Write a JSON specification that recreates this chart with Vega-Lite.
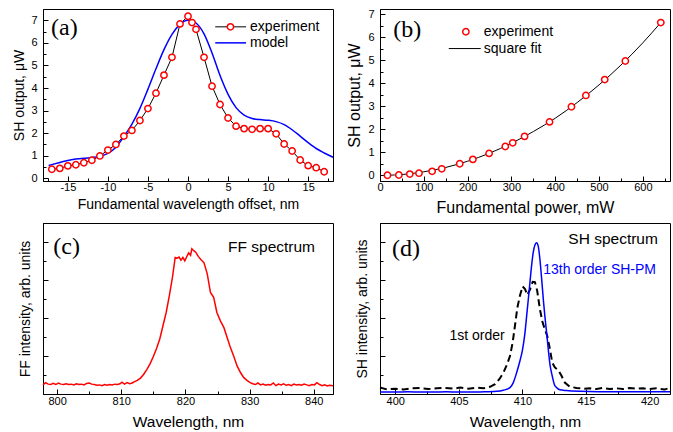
{
  "$schema": "https://vega.github.io/schema/vega-lite/v6.json",
  "padding": {"left": 12, "top": 7, "right": 4, "bottom": 4},
  "columns": 2,
  "spacing": {"row": 6, "column": 9},
  "datasets": {
    "a_exp": [{"x":-17,"y":0.40},{"x":-16,"y":0.44},{"x":-15,"y":0.55},{"x":-14,"y":0.60},{"x":-13,"y":0.69},{"x":-12,"y":0.80},{"x":-11,"y":0.99},{"x":-10,"y":1.25},{"x":-9,"y":1.50},{"x":-8,"y":1.87},{"x":-7,"y":2.12},{"x":-6,"y":2.56},{"x":-5,"y":3.09},{"x":-4,"y":3.77},{"x":-3,"y":4.57},{"x":-2,"y":5.36},{"x":-1,"y":6.84},{"x":0,"y":7.18},{"x":0.5,"y":6.9},{"x":1,"y":6.6},{"x":2,"y":5.36},{"x":3,"y":4.08},{"x":4,"y":3.27},{"x":5,"y":2.67},{"x":6,"y":2.31},{"x":7,"y":2.20},{"x":8,"y":2.17},{"x":9,"y":2.20},{"x":10,"y":2.20},{"x":11,"y":1.97},{"x":12,"y":1.52},{"x":13,"y":1.21},{"x":14,"y":0.81},{"x":15,"y":0.56},{"x":16,"y":0.47},{"x":17,"y":0.29}],
    "a_model": [{"x":-17.4,"y":0.57},{"x":-16,"y":0.70},{"x":-15,"y":0.79},{"x":-14,"y":0.85},{"x":-13,"y":0.89},{"x":-12,"y":0.92},{"x":-11,"y":0.97},{"x":-10,"y":1.10},{"x":-9,"y":1.38},{"x":-8,"y":1.85},{"x":-7,"y":2.40},{"x":-6,"y":3.10},{"x":-5,"y":3.95},{"x":-4,"y":4.85},{"x":-3,"y":5.70},{"x":-2,"y":6.38},{"x":-1,"y":6.82},{"x":-0.5,"y":6.95},{"x":0,"y":7.0},{"x":0.5,"y":6.98},{"x":1,"y":6.88},{"x":2,"y":6.40},{"x":3,"y":5.55},{"x":4,"y":4.55},{"x":5,"y":3.72},{"x":6,"y":3.13},{"x":7,"y":2.80},{"x":8,"y":2.65},{"x":9,"y":2.60},{"x":10,"y":2.57},{"x":11,"y":2.51},{"x":12,"y":2.38},{"x":13,"y":2.15},{"x":14,"y":1.87},{"x":15,"y":1.58},{"x":16,"y":1.32},{"x":17,"y":1.12},{"x":18.1,"y":0.93}],
    "b_exp": [{"x":17,"y":0.0},{"x":43,"y":0.01},{"x":68,"y":0.05},{"x":89,"y":0.09},{"x":119,"y":0.17},{"x":141,"y":0.28},{"x":182,"y":0.50},{"x":212,"y":0.69},{"x":249,"y":0.95},{"x":286,"y":1.25},{"x":303,"y":1.41},{"x":330,"y":1.69},{"x":387,"y":2.32},{"x":437,"y":2.98},{"x":470,"y":3.47},{"x":513,"y":4.16},{"x":560,"y":4.97},{"x":641,"y":6.64}],
    "b_fit": [{"x":16,"y":0.0},{"x":50,"y":0.03},{"x":100,"y":0.15},{"x":150,"y":0.34},{"x":200,"y":0.61},{"x":250,"y":0.96},{"x":300,"y":1.39},{"x":350,"y":1.90},{"x":400,"y":2.48},{"x":450,"y":3.16},{"x":500,"y":3.93},{"x":550,"y":4.79},{"x":600,"y":5.76},{"x":641,"y":6.64}],
    "c_ff": [{"x":797.8,"y":0.24},{"x":798.2,"y":0.30},{"x":798.6,"y":0.26},{"x":799.0,"y":0.25},{"x":799.4,"y":0.28},{"x":799.8,"y":0.25},{"x":800.2,"y":0.29},{"x":800.6,"y":0.26},{"x":801.0,"y":0.25},{"x":801.4,"y":0.27},{"x":801.8,"y":0.25},{"x":802.2,"y":0.26},{"x":802.6,"y":0.24},{"x":803.0,"y":0.27},{"x":803.4,"y":0.25},{"x":803.8,"y":0.26},{"x":804.2,"y":0.24},{"x":804.6,"y":0.28},{"x":805.0,"y":0.29},{"x":805.4,"y":0.26},{"x":805.8,"y":0.25},{"x":806.2,"y":0.23},{"x":806.6,"y":0.24},{"x":807.0,"y":0.22},{"x":807.4,"y":0.25},{"x":807.8,"y":0.23},{"x":808.2,"y":0.25},{"x":808.6,"y":0.24},{"x":809.0,"y":0.26},{"x":809.4,"y":0.25},{"x":809.8,"y":0.27},{"x":810.1,"y":0.31},{"x":810.5,"y":0.26},{"x":810.9,"y":0.30},{"x":811.3,"y":0.27},{"x":811.7,"y":0.29},{"x":812.0,"y":0.32},{"x":812.5,"y":0.36},{"x":813.0,"y":0.42},{"x":813.5,"y":0.52},{"x":814.0,"y":0.65},{"x":814.5,"y":0.80},{"x":815.0,"y":0.99},{"x":815.5,"y":1.20},{"x":816.0,"y":1.45},{"x":816.5,"y":1.80},{"x":817.0,"y":2.15},{"x":817.5,"y":2.60},{"x":818.0,"y":3.10},{"x":818.4,"y":3.60},{"x":818.7,"y":3.58},{"x":819.0,"y":3.61},{"x":819.3,"y":3.53},{"x":819.6,"y":3.60},{"x":819.9,"y":3.51},{"x":820.2,"y":3.62},{"x":820.5,"y":3.72},{"x":820.8,"y":3.66},{"x":821.0,"y":3.83},{"x":821.3,"y":3.78},{"x":821.6,"y":3.74},{"x":822.0,"y":3.63},{"x":822.4,"y":3.55},{"x":822.9,"y":3.46},{"x":823.4,"y":3.17},{"x":823.9,"y":2.68},{"x":824.4,"y":2.55},{"x":824.9,"y":2.15},{"x":825.45,"y":1.93},{"x":826.0,"y":1.75},{"x":826.5,"y":1.49},{"x":827.0,"y":1.23},{"x":827.5,"y":1.01},{"x":828.05,"y":0.74},{"x":828.6,"y":0.56},{"x":829.1,"y":0.43},{"x":829.6,"y":0.36},{"x":830.1,"y":0.30},{"x":830.5,"y":0.27},{"x":830.9,"y":0.25},{"x":831.3,"y":0.29},{"x":831.7,"y":0.24},{"x":832.1,"y":0.26},{"x":832.5,"y":0.23},{"x":832.9,"y":0.25},{"x":833.3,"y":0.24},{"x":833.7,"y":0.29},{"x":834.1,"y":0.22},{"x":834.5,"y":0.26},{"x":834.9,"y":0.24},{"x":835.3,"y":0.27},{"x":835.7,"y":0.23},{"x":836.1,"y":0.25},{"x":836.5,"y":0.22},{"x":836.9,"y":0.26},{"x":837.3,"y":0.24},{"x":837.7,"y":0.25},{"x":838.1,"y":0.23},{"x":838.5,"y":0.26},{"x":838.9,"y":0.24},{"x":839.3,"y":0.22},{"x":839.7,"y":0.25},{"x":840.1,"y":0.24},{"x":840.5,"y":0.30},{"x":840.9,"y":0.25},{"x":841.3,"y":0.22},{"x":841.7,"y":0.24},{"x":842.1,"y":0.21},{"x":842.5,"y":0.23},{"x":843.0,"y":0.22}],
    "d_blue": [{"x":398.8,"y":0.05},{"x":400,"y":0.05},{"x":401,"y":0.06},{"x":402,"y":0.05},{"x":403,"y":0.05},{"x":404,"y":0.06},{"x":405,"y":0.05},{"x":406,"y":0.05},{"x":407,"y":0.06},{"x":408,"y":0.07},{"x":408.5,"y":0.10},{"x":409.02,"y":0.17},{"x":409.28,"y":0.30},{"x":409.54,"y":0.56},{"x":409.80,"y":0.87},{"x":410.01,"y":1.18},{"x":410.2,"y":1.62},{"x":410.33,"y":2.06},{"x":410.46,"y":2.50},{"x":410.59,"y":2.95},{"x":410.72,"y":3.39},{"x":410.85,"y":3.74},{"x":410.98,"y":3.93},{"x":411.11,"y":3.99},{"x":411.24,"y":3.90},{"x":411.37,"y":3.56},{"x":411.53,"y":2.95},{"x":411.66,"y":2.42},{"x":411.76,"y":2.06},{"x":411.9,"y":1.62},{"x":412.03,"y":1.18},{"x":412.18,"y":0.74},{"x":412.34,"y":0.48},{"x":412.5,"y":0.26},{"x":412.68,"y":0.17},{"x":412.94,"y":0.11},{"x":413.46,"y":0.09},{"x":414.5,"y":0.07},{"x":416,"y":0.06},{"x":418,"y":0.06},{"x":420,"y":0.06},{"x":421.6,"y":0.06}],
    "d_black": [{"x":398.8,"y":0.17},{"x":399.35,"y":0.12},{"x":400,"y":0.14},{"x":400.65,"y":0.12},{"x":401.3,"y":0.15},{"x":401.96,"y":0.16},{"x":402.6,"y":0.13},{"x":403.27,"y":0.15},{"x":403.9,"y":0.16},{"x":404.58,"y":0.14},{"x":405.1,"y":0.17},{"x":405.75,"y":0.14},{"x":406.4,"y":0.17},{"x":406.93,"y":0.15},{"x":407.45,"y":0.19},{"x":407.84,"y":0.26},{"x":408.18,"y":0.39},{"x":408.5,"y":0.56},{"x":408.76,"y":0.76},{"x":409.02,"y":1.0},{"x":409.23,"y":1.36},{"x":409.41,"y":1.80},{"x":409.6,"y":2.28},{"x":409.8,"y":2.59},{"x":410.01,"y":2.84},{"x":410.2,"y":2.77},{"x":410.38,"y":2.61},{"x":410.59,"y":2.75},{"x":410.8,"y":2.96},{"x":410.98,"y":2.95},{"x":411.16,"y":2.72},{"x":411.37,"y":2.24},{"x":411.58,"y":1.89},{"x":411.76,"y":1.71},{"x":411.95,"y":1.53},{"x":412.16,"y":1.18},{"x":412.34,"y":0.83},{"x":412.55,"y":0.70},{"x":412.81,"y":0.63},{"x":413.07,"y":0.48},{"x":413.33,"y":0.30},{"x":413.73,"y":0.19},{"x":414.25,"y":0.16},{"x":414.77,"y":0.14},{"x":415.3,"y":0.15},{"x":415.82,"y":0.13},{"x":416.34,"y":0.16},{"x":416.86,"y":0.13},{"x":417.39,"y":0.15},{"x":417.9,"y":0.13},{"x":418.43,"y":0.16},{"x":418.95,"y":0.14},{"x":419.48,"y":0.15},{"x":420,"y":0.13},{"x":420.52,"y":0.15},{"x":421.18,"y":0.12},{"x":421.57,"y":0.16}]
  },
  "concat": [
    {
      "width": 290, "height": 172,
      "layer": [
        {"data": {"name": "a_exp"}, "mark": {"type": "line", "color": "black", "strokeWidth": 1},
         "encoding": {
           "x": {"field": "x", "type": "quantitative", "scale": {"domain": [-18.1, 18.1], "nice": false, "zero": false},
                 "axis": {"title": "Fundamental wavelength offset, nm", "titleFontSize": 14, "titlePadding": 3, "labelOverlap": false, "tickCount": 100,
                          "values": [-17.5,-15,-12.5,-10,-7.5,-5,-2.5,0,2.5,5,7.5,10,12.5,15,17.5],
                          "tickSize": {"condition": {"test": "datum.value % 5 === 0", "value": -5}, "value": -3},
                          "labelExpr": "datum.value % 5 === 0 ? toString(datum.value) : ''", "labelPadding": 5}},
           "y": {"field": "y", "type": "quantitative", "scale": {"domain": [-0.12, 7.5], "nice": false, "zero": false},
                 "axis": {"title": "SH output, μW", "titleFontSize": 14, "titlePadding": 4, "labelOverlap": false, "tickCount": 100,
                          "values": [0,0.5,1,1.5,2,2.5,3,3.5,4,4.5,5,5.5,6,6.5,7],
                          "tickSize": {"condition": {"test": "datum.value % 1 === 0", "value": -5}, "value": -3},
                          "labelExpr": "datum.value % 1 === 0 ? toString(datum.value) : ''", "labelPadding": 11}}
         }},
        {"data": {"name": "a_model"}, "mark": {"type": "line", "color": "#0000ff", "strokeWidth": 1.5, "interpolate": "monotone"},
         "encoding": {"x": {"field": "x", "type": "quantitative"}, "y": {"field": "y", "type": "quantitative"}}},
        {"data": {"name": "a_exp"}, "mark": {"type": "point", "shape": "circle", "size": 40, "fill": "white", "stroke": "#ff0000", "strokeWidth": 1.5, "opacity": 1},
         "encoding": {"x": {"field": "x", "type": "quantitative"}, "y": {"field": "y", "type": "quantitative"}}},
        {"data": {"values": [{"x": 3.4, "x2": 7.25, "y": 6.71}]}, "mark": {"type": "rule", "color": "black", "strokeWidth": 1},
         "encoding": {"x": {"field": "x", "type": "quantitative"}, "x2": {"field": "x2"}, "y": {"field": "y", "type": "quantitative"}}},
        {"data": {"values": [{"x": 3.4, "x2": 7.25, "y": 6.0}]}, "mark": {"type": "rule", "color": "#0000ff", "strokeWidth": 1.5},
         "encoding": {"x": {"field": "x", "type": "quantitative"}, "x2": {"field": "x2"}, "y": {"field": "y", "type": "quantitative"}}},
        {"data": {"values": [{"x": 5.3, "y": 6.71}]}, "mark": {"type": "point", "shape": "circle", "size": 40, "fill": "white", "stroke": "#ff0000", "strokeWidth": 1.5, "opacity": 1},
         "encoding": {"x": {"field": "x", "type": "quantitative"}, "y": {"field": "y", "type": "quantitative"}}},
        {"data": {"values": [{"x": 7.75, "y": 6.71, "t": "experiment"}, {"x": 7.75, "y": 6.0, "t": "model"}]},
         "mark": {"type": "text", "align": "left", "baseline": "middle", "font": "Liberation Sans", "fontSize": 14, "color": "black"},
         "encoding": {"x": {"field": "x", "type": "quantitative"}, "y": {"field": "y", "type": "quantitative"}, "text": {"field": "t"}}},
        {"data": {"values": [{"x": -17.1, "y": 6.64, "t": "(a)"}]},
         "mark": {"type": "text", "align": "left", "baseline": "middle", "font": "Liberation Serif", "fontSize": 24, "color": "black"},
         "encoding": {"x": {"field": "x", "type": "quantitative"}, "y": {"field": "y", "type": "quantitative"}, "text": {"field": "t"}}}
      ]
    },
    {
      "width": 290, "height": 172,
      "layer": [
        {"data": {"name": "b_fit"}, "mark": {"type": "line", "color": "black", "strokeWidth": 1, "interpolate": "monotone"},
         "encoding": {
           "x": {"field": "x", "type": "quantitative", "scale": {"domain": [0, 662], "nice": false, "zero": false},
                 "axis": {"title": "Fundamental power, mW", "titleFontSize": 16, "titlePadding": 5, "labelOverlap": false, "tickCount": 100,
                          "values": [0,50,100,150,200,250,300,350,400,450,500,550,600,650],
                          "tickSize": {"condition": {"test": "datum.value % 100 === 0", "value": -5}, "value": -3},
                          "labelExpr": "datum.value % 100 === 0 ? toString(datum.value) : ''", "labelPadding": 5}},
           "y": {"field": "y", "type": "quantitative", "scale": {"domain": [-0.25, 7.23], "nice": false, "zero": false},
                 "axis": {"title": "SH output, μW", "titleFontSize": 16, "titlePadding": 5, "labelOverlap": false, "tickCount": 100,
                          "values": [0,0.5,1,1.5,2,2.5,3,3.5,4,4.5,5,5.5,6,6.5,7],
                          "tickSize": {"condition": {"test": "datum.value % 1 === 0", "value": -5}, "value": -3},
                          "labelExpr": "datum.value % 1 === 0 ? toString(datum.value) : ''", "labelPadding": 11}}
         }},
        {"data": {"name": "b_exp"}, "mark": {"type": "point", "shape": "circle", "size": 40, "fill": "white", "stroke": "#ff0000", "strokeWidth": 1.5, "opacity": 1},
         "encoding": {"x": {"field": "x", "type": "quantitative"}, "y": {"field": "y", "type": "quantitative"}}},
        {"data": {"values": [{"x": 157, "x2": 230, "y": 5.51}]}, "mark": {"type": "rule", "color": "black", "strokeWidth": 1},
         "encoding": {"x": {"field": "x", "type": "quantitative"}, "x2": {"field": "x2"}, "y": {"field": "y", "type": "quantitative"}}},
        {"data": {"values": [{"x": 196, "y": 6.24}]}, "mark": {"type": "point", "shape": "circle", "size": 40, "fill": "white", "stroke": "#ff0000", "strokeWidth": 1.5, "opacity": 1},
         "encoding": {"x": {"field": "x", "type": "quantitative"}, "y": {"field": "y", "type": "quantitative"}}},
        {"data": {"values": [{"x": 237, "y": 6.24, "t": "experiment"}, {"x": 237, "y": 5.51, "t": "square fit"}]},
         "mark": {"type": "text", "align": "left", "baseline": "middle", "font": "Liberation Sans", "fontSize": 14, "color": "black"},
         "encoding": {"x": {"field": "x", "type": "quantitative"}, "y": {"field": "y", "type": "quantitative"}, "text": {"field": "t"}}},
        {"data": {"values": [{"x": 30.5, "y": 6.33, "t": "(b)"}]},
         "mark": {"type": "text", "align": "left", "baseline": "middle", "font": "Liberation Serif", "fontSize": 24, "color": "black"},
         "encoding": {"x": {"field": "x", "type": "quantitative"}, "y": {"field": "y", "type": "quantitative"}, "text": {"field": "t"}}}
      ]
    },
    {
      "width": 290, "height": 171,
      "layer": [
        {"data": {"name": "c_ff"}, "mark": {"type": "line", "color": "#ff0000", "strokeWidth": 1.5},
         "encoding": {
           "x": {"field": "x", "type": "quantitative", "scale": {"domain": [797.8, 843], "nice": false, "zero": false},
                 "axis": {"title": "Wavelength, nm", "titleFontSize": 15.5, "titlePadding": 6, "labelOverlap": false, "tickCount": 100,
                          "values": [800,805,810,815,820,825,830,835,840],
                          "tickSize": {"condition": {"test": "datum.value % 10 === 0", "value": -5}, "value": -3},
                          "labelExpr": "datum.value % 10 === 0 ? toString(datum.value) : ''", "labelPadding": 6}},
           "y": {"field": "y", "type": "quantitative", "scale": {"domain": [0, 4.51], "nice": false, "zero": false},
                 "axis": {"title": "FF intensity, arb. units", "titleFontSize": 14, "titlePadding": 10, "labels": false, "tickCount": 100,
                          "values": [0.5,1,1.5,2,2.5,3,3.5,4,4.5],
                          "tickSize": {"condition": {"test": "datum.value % 1 === 0", "value": -5}, "value": -3}}}
         }},
        {"data": {"values": [{"x": 799.4, "y": 3.87, "t": "(c)"}]},
         "mark": {"type": "text", "align": "left", "baseline": "middle", "font": "Liberation Serif", "fontSize": 24, "color": "black"},
         "encoding": {"x": {"field": "x", "type": "quantitative"}, "y": {"field": "y", "type": "quantitative"}, "text": {"field": "t"}}},
        {"data": {"values": [{"x": 840.2, "y": 3.87, "t": "FF spectrum"}]},
         "mark": {"type": "text", "align": "right", "baseline": "middle", "font": "Liberation Sans", "fontSize": 15.5, "color": "black"},
         "encoding": {"x": {"field": "x", "type": "quantitative"}, "y": {"field": "y", "type": "quantitative"}, "text": {"field": "t"}}}
      ]
    },
    {
      "width": 290, "height": 171,
      "layer": [
        {"data": {"name": "d_black"}, "mark": {"type": "line", "color": "black", "strokeWidth": 2, "strokeDash": [7, 4]},
         "encoding": {
           "x": {"field": "x", "type": "quantitative", "scale": {"domain": [398.8, 421.6], "nice": false, "zero": false},
                 "axis": {"title": "Wavelength, nm", "titleFontSize": 15.5, "titlePadding": 6, "labelOverlap": false, "tickCount": 100,
                          "values": [400,402.5,405,407.5,410,412.5,415,417.5,420],
                          "tickSize": {"condition": {"test": "datum.value % 5 === 0", "value": -5}, "value": -3},
                          "labelExpr": "datum.value % 5 === 0 ? toString(datum.value) : ''", "labelPadding": 6}},
           "y": {"field": "y", "type": "quantitative", "scale": {"domain": [0, 4.51], "nice": false, "zero": false},
                 "axis": {"title": "SH intensity, arb. units", "titleFontSize": 14, "titlePadding": 10, "labels": false, "tickCount": 100,
                          "values": [0.5,1,1.5,2,2.5,3,3.5,4,4.5],
                          "tickSize": {"condition": {"test": "datum.value % 1 === 0", "value": -5}, "value": -3}}}
         }},
        {"data": {"name": "d_blue"}, "mark": {"type": "line", "color": "#0000ff", "strokeWidth": 1.5, "interpolate": "monotone"},
         "encoding": {"x": {"field": "x", "type": "quantitative"}, "y": {"field": "y", "type": "quantitative"}}},
        {"data": {"values": [{"x": 399.74, "y": 3.83, "t": "(d)"}]},
         "mark": {"type": "text", "align": "left", "baseline": "middle", "font": "Liberation Serif", "fontSize": 24, "color": "black"},
         "encoding": {"x": {"field": "x", "type": "quantitative"}, "y": {"field": "y", "type": "quantitative"}, "text": {"field": "t"}}},
        {"data": {"values": [{"x": 420.65, "y": 4.09, "t": "SH spectrum"}]},
         "mark": {"type": "text", "align": "right", "baseline": "middle", "font": "Liberation Sans", "fontSize": 15.5, "color": "black"},
         "encoding": {"x": {"field": "x", "type": "quantitative"}, "y": {"field": "y", "type": "quantitative"}, "text": {"field": "t"}}},
        {"data": {"values": [{"x": 420.5, "y": 3.28, "t": "13th order SH-PM"}]},
         "mark": {"type": "text", "align": "right", "baseline": "middle", "font": "Liberation Sans", "fontSize": 14, "color": "#0000ff"},
         "encoding": {"x": {"field": "x", "type": "quantitative"}, "y": {"field": "y", "type": "quantitative"}, "text": {"field": "t"}}},
        {"data": {"values": [{"x": 404.26, "y": 1.53, "t": "1st order"}]},
         "mark": {"type": "text", "align": "left", "baseline": "middle", "font": "Liberation Sans", "fontSize": 14, "color": "black"},
         "encoding": {"x": {"field": "x", "type": "quantitative"}, "y": {"field": "y", "type": "quantitative"}, "text": {"field": "t"}}}
      ]
    }
  ],
  "config": {
    "font": "Liberation Sans",
    "view": {"stroke": "black", "strokeWidth": 1},
    "axis": {"grid": false, "domainColor": "black", "domainWidth": 1, "tickColor": "black", "tickWidth": 1,
             "labelColor": "black", "titleColor": "black", "labelFont": "Liberation Sans", "titleFont": "Liberation Sans",
             "titleFontWeight": "normal", "labelFontSize": 11, "labelFlush": false, "labelOverlap": false}
  }
}
